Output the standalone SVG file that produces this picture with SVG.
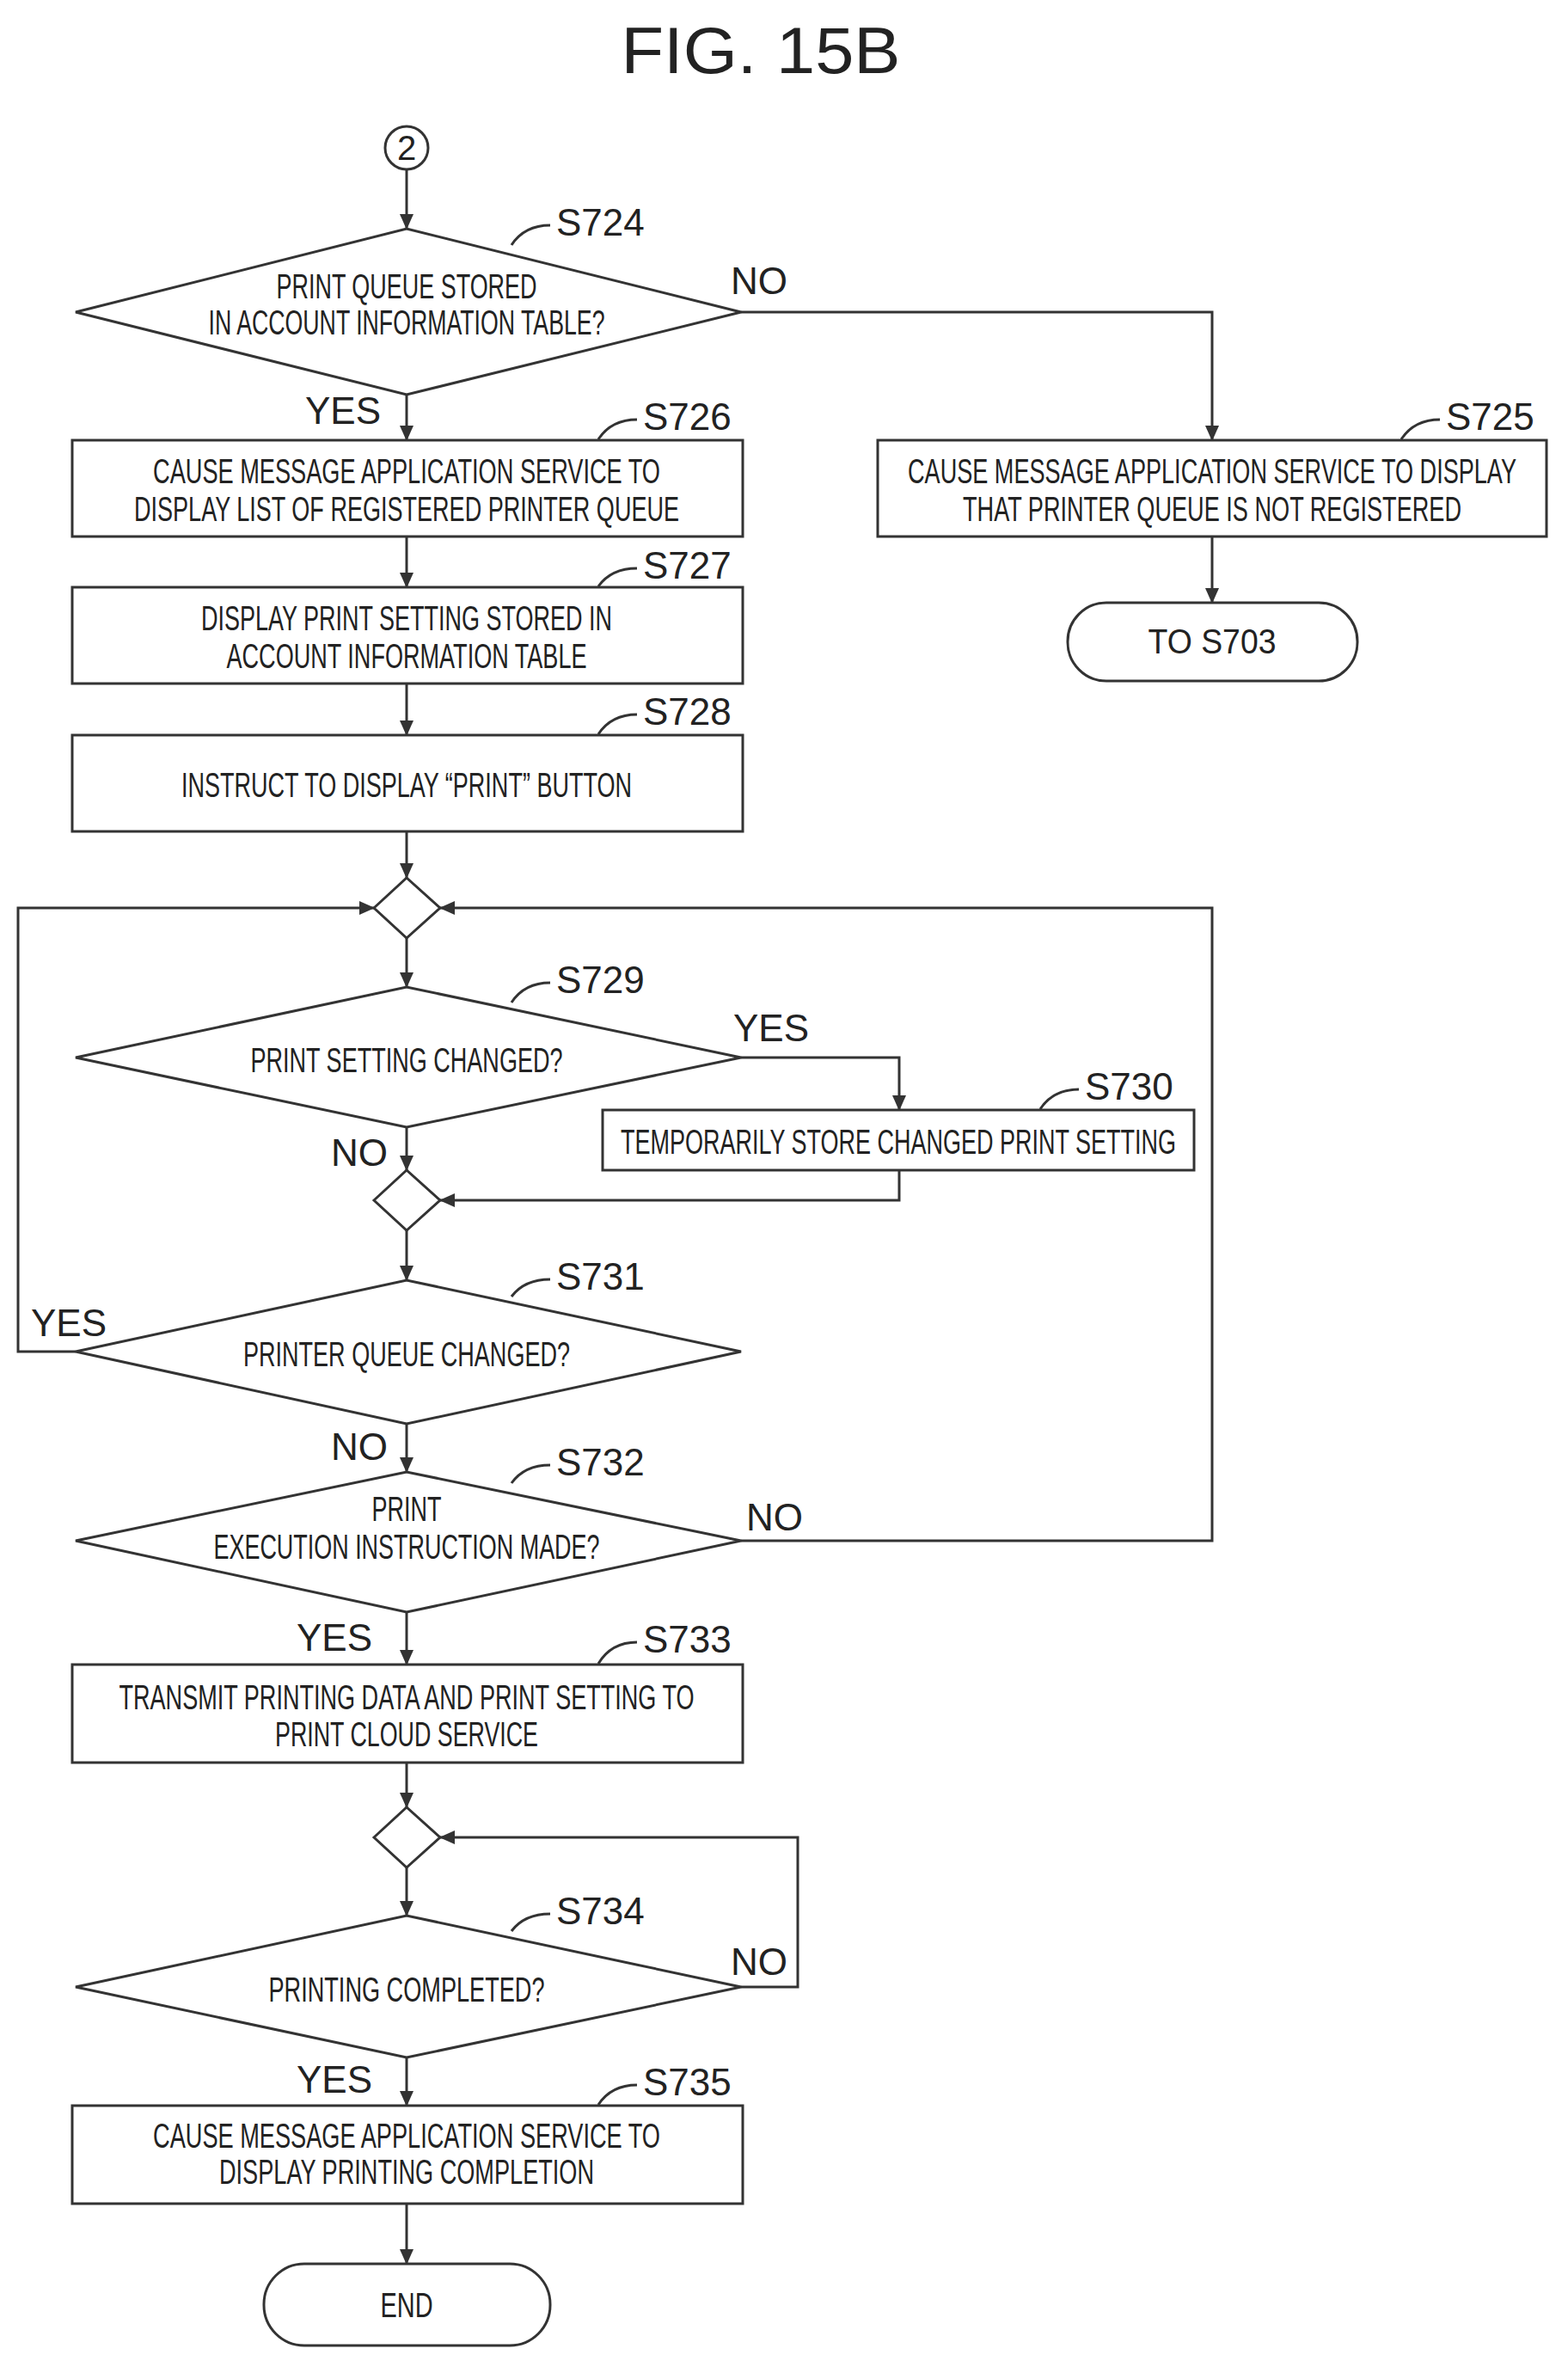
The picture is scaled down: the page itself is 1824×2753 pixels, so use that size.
<svg xmlns="http://www.w3.org/2000/svg" width="1824" height="2753" viewBox="0 0 1824 2753">
<style>
.s{fill:#fff;stroke:#333;stroke-width:3}
.l{fill:none;stroke:#333;stroke-width:3}
.t{font-family:"Liberation Sans",Arial,sans-serif;font-size:40px;fill:#222;text-anchor:middle;dominant-baseline:central}
.lb{font-family:"Liberation Sans",Arial,sans-serif;font-size:44px;fill:#222;dominant-baseline:central}
</style>
<defs><marker id="a" markerWidth="10" markerHeight="10" refX="9" refY="5" orient="auto" markerUnits="userSpaceOnUse" viewBox="0 0 10 10"><path d="M0,0 L10,5 L0,10 z" fill="#333"/></marker>
<marker id="A" markerWidth="18" markerHeight="16" refX="17" refY="8" orient="auto" markerUnits="userSpaceOnUse"><path d="M0,0 L18,8 L0,16 z" fill="#333"/></marker></defs>
<text x="885" y="58" class="t" style="font-size:76px" textLength="325" lengthAdjust="spacingAndGlyphs">FIG. 15B</text>
<g id="connectors">
<path class="l" marker-end="url(#A)" d="M473,197 V266"/>
<path class="l" marker-end="url(#A)" d="M862,363 H1410 V512"/>
<path class="l" marker-end="url(#A)" d="M473,459 V512"/>
<path class="l" marker-end="url(#A)" d="M1410,624 V701"/>
<path class="l" marker-end="url(#A)" d="M473,624 V683"/>
<path class="l" marker-end="url(#A)" d="M473,795 V855"/>
<path class="l" marker-end="url(#A)" d="M473,967 V1021"/>
<path class="l" marker-end="url(#A)" d="M473,1091 V1148"/>
<path class="l" marker-end="url(#A)" d="M862,1230 H1046 V1291"/>
<path class="l" marker-end="url(#A)" d="M1046,1361 V1396 H512"/>
<path class="l" marker-end="url(#A)" d="M473,1311 V1361"/>
<path class="l" marker-end="url(#A)" d="M473,1431 V1489"/>
<path class="l" marker-end="url(#A)" d="M88,1572 H21 V1056 H435"/>
<path class="l" marker-end="url(#A)" d="M473,1656 V1712"/>
<path class="l" marker-end="url(#A)" d="M862,1792 H1410 V1056 H512"/>
<path class="l" marker-end="url(#A)" d="M473,1875 V1936"/>
<path class="l" marker-end="url(#A)" d="M473,2050 V2102"/>
<path class="l" marker-end="url(#A)" d="M473,2172 V2228"/>
<path class="l" marker-end="url(#A)" d="M862,2311 H928 V2137 H512"/>
<path class="l" marker-end="url(#A)" d="M473,2393 V2449"/>
<path class="l" marker-end="url(#A)" d="M473,2563 V2633"/>
</g>
<g id="c2"><circle cx="473" cy="172" r="25" class="s"/><text x="473" y="172" class="t">2</text></g>
<g id="S724"><polygon class="s" points="88,363 473,266 862,363 473,459"/>
<text x="473" y="333" class="t" textLength="303" lengthAdjust="spacingAndGlyphs">PRINT QUEUE STORED</text>
<text x="473" y="375" class="t" textLength="461" lengthAdjust="spacingAndGlyphs">IN ACCOUNT INFORMATION TABLE?</text>
<text x="647" y="258" class="lb">S724</text><path class="l" d="M640,262 Q610,262 595,285"/>
<text x="850" y="326" class="lb">NO</text><text x="355" y="477" class="lb">YES</text></g>
<g id="S725"><rect class="s" x="1021" y="512" width="778" height="112"/>
<text x="1410" y="548" class="t" textLength="708" lengthAdjust="spacingAndGlyphs">CAUSE MESSAGE APPLICATION SERVICE TO DISPLAY</text>
<text x="1410" y="592" class="t" textLength="580" lengthAdjust="spacingAndGlyphs">THAT PRINTER QUEUE IS NOT REGISTERED</text>
<text x="1682" y="484" class="lb">S725</text><path class="l" d="M1675,488 Q1645,488 1630,511"/></g>
<g id="T703"><rect class="s" x="1242" y="701" width="337" height="91" rx="45"/><text x="1410" y="746" class="t" textLength="149" lengthAdjust="spacingAndGlyphs">TO S703</text></g>
<g id="S726"><rect class="s" x="84" y="512" width="780" height="112"/>
<text x="473" y="548" class="t" textLength="590" lengthAdjust="spacingAndGlyphs">CAUSE MESSAGE APPLICATION SERVICE TO</text>
<text x="473" y="592" class="t" textLength="634" lengthAdjust="spacingAndGlyphs">DISPLAY LIST OF REGISTERED PRINTER QUEUE</text>
<text x="748" y="484" class="lb">S726</text><path class="l" d="M741,488 Q711,488 696,511"/></g>
<g id="S727"><rect class="s" x="84" y="683" width="780" height="112"/>
<text x="473" y="719" class="t" textLength="478" lengthAdjust="spacingAndGlyphs">DISPLAY PRINT SETTING STORED IN</text>
<text x="473" y="763" class="t" textLength="419" lengthAdjust="spacingAndGlyphs">ACCOUNT INFORMATION TABLE</text>
<text x="748" y="657" class="lb">S727</text><path class="l" d="M741,661 Q711,661 696,682"/></g>
<g id="S728"><rect class="s" x="84" y="855" width="780" height="112"/>
<text x="473" y="913" class="t" textLength="524" lengthAdjust="spacingAndGlyphs">INSTRUCT TO DISPLAY “PRINT” BUTTON</text>
<text x="748" y="827" class="lb">S728</text><path class="l" d="M741,831 Q711,831 696,854"/></g>
<g id="m1"><polygon class="s" points="435,1056 473,1021 512,1056 473,1091"/></g>
<g id="S729"><polygon class="s" points="88,1230 473,1148 862,1230 473,1311"/>
<text x="473" y="1233" class="t" textLength="363" lengthAdjust="spacingAndGlyphs">PRINT SETTING CHANGED?</text>
<text x="647" y="1139" class="lb">S729</text><path class="l" d="M640,1143 Q610,1143 595,1166"/>
<text x="853" y="1195" class="lb">YES</text><text x="385" y="1340" class="lb">NO</text></g>
<g id="S730"><rect class="s" x="701" y="1291" width="688" height="70"/>
<text x="1045" y="1328" class="t" textLength="646" lengthAdjust="spacingAndGlyphs">TEMPORARILY STORE CHANGED PRINT SETTING</text>
<text x="1262" y="1263" class="lb">S730</text><path class="l" d="M1255,1267 Q1225,1267 1210,1290"/></g>
<g id="m2"><polygon class="s" points="435,1396 473,1361 512,1396 473,1431"/></g>
<g id="S731"><polygon class="s" points="88,1572 473,1489 862,1572 473,1656"/>
<text x="473" y="1575" class="t" textLength="380" lengthAdjust="spacingAndGlyphs">PRINTER QUEUE CHANGED?</text>
<text x="647" y="1484" class="lb">S731</text><path class="l" d="M640,1488 Q610,1488 595,1508"/>
<text x="36" y="1538" class="lb">YES</text><text x="385" y="1682" class="lb">NO</text></g>
<g id="S732"><polygon class="s" points="88,1792 473,1712 862,1792 473,1875"/>
<text x="473" y="1755" class="t" textLength="81" lengthAdjust="spacingAndGlyphs">PRINT</text>
<text x="473" y="1799" class="t" textLength="449" lengthAdjust="spacingAndGlyphs">EXECUTION INSTRUCTION MADE?</text>
<text x="647" y="1700" class="lb">S732</text><path class="l" d="M640,1704 Q610,1704 595,1725"/>
<text x="868" y="1764" class="lb">NO</text><text x="345" y="1904" class="lb">YES</text></g>
<g id="S733"><rect class="s" x="84" y="1936" width="780" height="114"/>
<text x="473" y="1974" class="t" textLength="669" lengthAdjust="spacingAndGlyphs">TRANSMIT PRINTING DATA AND PRINT SETTING TO</text>
<text x="473" y="2017" class="t" textLength="306" lengthAdjust="spacingAndGlyphs">PRINT CLOUD SERVICE</text>
<text x="748" y="1906" class="lb">S733</text><path class="l" d="M741,1910 Q711,1910 696,1935"/></g>
<g id="m3"><polygon class="s" points="435,2137 473,2102 512,2137 473,2172"/></g>
<g id="S734"><polygon class="s" points="88,2311 473,2228 862,2311 473,2393"/>
<text x="473" y="2314" class="t" textLength="321" lengthAdjust="spacingAndGlyphs">PRINTING COMPLETED?</text>
<text x="647" y="2222" class="lb">S734</text><path class="l" d="M640,2226 Q610,2226 595,2246"/>
<text x="850" y="2281" class="lb">NO</text><text x="345" y="2418" class="lb">YES</text></g>
<g id="S735"><rect class="s" x="84" y="2449" width="780" height="114"/>
<text x="473" y="2484" class="t" textLength="590" lengthAdjust="spacingAndGlyphs">CAUSE MESSAGE APPLICATION SERVICE TO</text>
<text x="473" y="2526" class="t" textLength="436" lengthAdjust="spacingAndGlyphs">DISPLAY PRINTING COMPLETION</text>
<text x="748" y="2421" class="lb">S735</text><path class="l" d="M741,2425 Q711,2425 696,2448"/></g>
<g id="END"><rect class="s" x="307" y="2633" width="333" height="95" rx="47"/><text x="473" y="2681" class="t" textLength="61" lengthAdjust="spacingAndGlyphs">END</text></g>
</svg>
